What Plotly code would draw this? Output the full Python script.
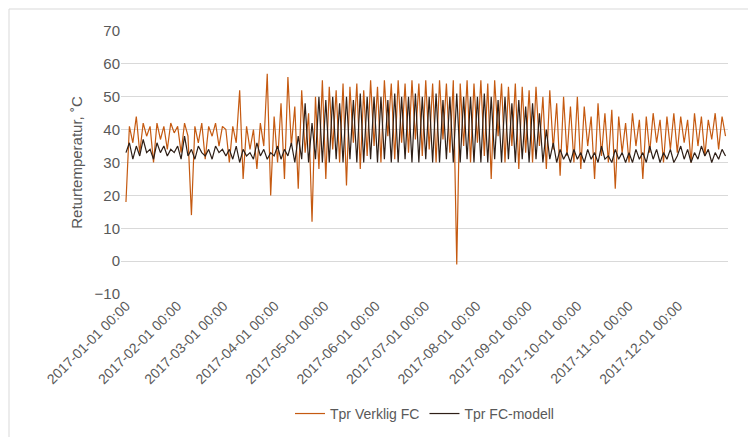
import plotly.graph_objects as go
import pandas as pd

verklig = [18,41,36,44,33,42,38,41,30,42,37,41,34,42,39,
 41,33,42,38,14,41,36,42,31,41,38,42,35,41,
 40,30,41,36,52,25,41,34,40,28,42,35,57,20,44,
 30,48,25,56,35,47,22,52,33,45,12,50,28,55,
 25,53,34,52,30,54,23,53,36,54,28,52,32,55,35,
 53,30,55,38,54,31,55,36,54,33,55,37,54,32,
 55,34,54,30,55,37,54,33,55,-1,54,35,55,30,54,
 36,55,32,54,25,55,38,54,30,53,35,54,28,53,33,
 52,30,53,35,50,28,52,34,48,26,50,32,47,30,
 50,28,47,35,44,25,48,32,45,30,46,22,44,33,42,
 30,45,35,43,25,44,33,45,36,43,30,44,34,45,
 33,44,36,43,30,45,35,44,32,43,37,45,34,44,38]
modell = [33,36,31,35,32,37,33,34,31,36,33,35,32,34,33,
 35,31,38,32,34,31,35,33,32,34,31,35,33,34,
 32,34,31,35,30,34,32,33,31,36,32,34,31,33,32,
 35,31,34,32,36,30,38,31,48,30,42,31,50,30,
 49,30,50,31,48,30,50,31,49,30,51,30,50,31,50,
 30,50,31,49,30,51,30,50,31,50,30,51,30,50,
 31,50,30,51,30,49,31,50,30,51,30,50,31,50,30,
 50,30,51,30,50,31,49,30,50,31,48,30,49,31,47,
 30,48,31,45,30,40,31,36,30,34,31,33,30,34,
 31,33,30,34,31,33,30,35,31,32,30,34,31,33,30,
 33,30,34,31,33,30,35,31,34,30,33,31,34,30,
 32,35,31,34,30,33,31,35,32,34,30,33,31,34,32]
times = pd.date_range("2017-01-01", periods=len(verklig), freq="50h")
tick_vals = pd.date_range("2017-01-01", periods=12, freq="MS")
tick_text = [d.strftime("%Y-%m-%d 00:00") for d in tick_vals]

fig = go.Figure()
fig.add_trace(go.Scatter(x=times, y=verklig, mode="lines", name="Tpr Verklig FC",
                         line=dict(color="#C55A11", width=1.2)))
fig.add_trace(go.Scatter(x=times, y=modell, mode="lines", name="Tpr FC-modell",
                         line=dict(color="#2E1F17", width=1.2)))
fnt = dict(family="Liberation Sans, Arial", size=14, color="#595959")
fig.update_layout(
    width=756, height=437, paper_bgcolor="white", plot_bgcolor="white",
    margin=dict(l=113, r=36, t=23, b=151), font=fnt,
    xaxis=dict(range=["2016-12-29", "2017-12-31"], tickvals=tick_vals, ticktext=tick_text,
               tickangle=-45, showgrid=False, showline=False, automargin=False,
               ticklabelstandoff=0, ticklen=0,
               tickfont=dict(size=14)),
    yaxis=dict(range=[-10, 70], dtick=10, showgrid=True, gridcolor="#D9D9D9",
               zeroline=False, automargin=False,
               title=dict(text="Returtemperatur, ˚C", font=dict(size=15), standoff=8),
               tickfont=dict(size=15)),
    legend=dict(orientation="h", x=0.5, xanchor="center", y=-0.456, yanchor="middle",
                font=dict(size=14)),
    shapes=[dict(type="rect", xref="paper", yref="paper",
                 x0=-112/607, x1=642/607, y0=-150/263, y1=1+22/263,
                 line=dict(color="#D9D9D9", width=1))],
)
fig.write_html("out.html")
